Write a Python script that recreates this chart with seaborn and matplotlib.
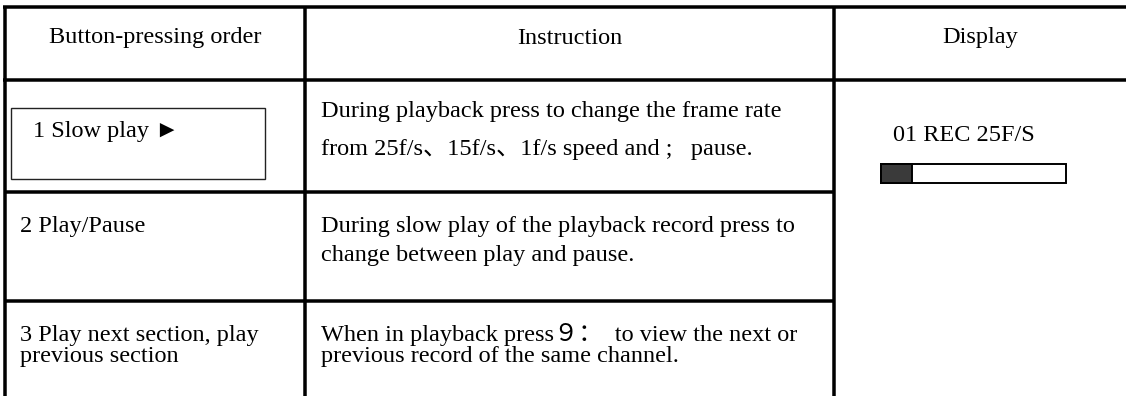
import matplotlib
matplotlib.use('Agg')
import matplotlib.pyplot as plt
import seaborn as sns

# table content
headers = ['Button-pressing order', 'Instruction', 'Display']
buttons = [['1 Slow play \u25BA'],
           ['2 Play/Pause'],
           ['3 Play next section, play', 'previous section']]
instructions = [['During playback press to change the frame rate',
                 'from 25f/s\u300115f/s\u30011f/s speed and ;   pause.'],
                ['During slow play of the playback record press to',
                 'change between play and pause.'],
                ['When in playback press\uff19\uff1a  to view the next or',
                 'previous record of the same channel.']]
display_text = '01 REC 25F/S'
progress = 0.17

# layout (pixel units, y down)
col_x = [5, 305, 834]
row_y = [6.5, 79.5, 192, 300.5]
btn_baselines = [[137], [232], [341, 362]]
ins_baselines = [[117, 155], [232, 261], [341, 362]]

sns.set_theme(style='white')
plt.rcParams['font.family'] = ['Liberation Serif', 'Noto Sans CJK SC', 'DejaVu Sans']
fs = 17.5
lw = 3.5 * 0.72

fig = plt.figure(figsize=(11.26, 3.96), dpi=100)
ax = fig.add_axes([0, 0, 1, 1])
ax.set_xlim(0, 1126)
ax.set_ylim(396, 0)
ax.axis('off')

#grid lines
ax.plot([col_x[0] - 1.7, 1126], [row_y[0], row_y[0]], color='black', lw=lw, solid_capstyle='butt')
ax.plot([col_x[0] - 1.7, 1126], [row_y[1], row_y[1]], color='black', lw=lw, solid_capstyle='butt')
for y in row_y[2:]:
    ax.plot([col_x[0], col_x[2]], [y, y], color='black', lw=lw, solid_capstyle='butt')
for x in col_x:
    ax.plot([x, x], [row_y[0], 396], color='black', lw=lw, solid_capstyle='butt')

#header
hx = [(col_x[0] + col_x[1]) / 2, (col_x[1] + col_x[2]) / 2, (col_x[2] + 1126) / 2]
for x, h in zip(hx, headers):
    ax.text(x, 43.5, h, ha='center', va='baseline', fontsize=fs, color='black')

#small box round the first button
ax.add_patch(plt.Rectangle((11, 108), 254, 71, fill=False, edgecolor='#222222', lw=1.0))

for i, lines in enumerate(buttons):
    x0 = 33 if i == 0 else 20
    for t, yb in zip(lines, btn_baselines[i]):
        ax.text(x0, yb, t, ha='left', va='baseline', fontsize=fs, color='black')

for i, lines in enumerate(instructions):
    for t, yb in zip(lines, ins_baselines[i]):
        ax.text(321, yb, t, ha='left', va='baseline', fontsize=fs, color='black')

#display column
ax.text(893, 141, display_text, ha='left', va='baseline', fontsize=fs, color='black')
bar_len = 185
ax.barh(173.5, bar_len, height=19, left=881, color='white', edgecolor='black', linewidth=1.4)
ax.barh(173.5, bar_len * progress, height=19, left=881, color='#3a3a3a', edgecolor='black', linewidth=1.4)

fig.savefig('out.png', dpi=100)
